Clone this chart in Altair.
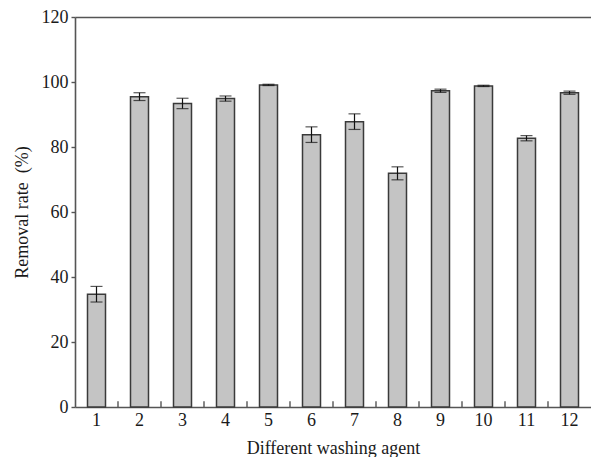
import altair as alt
import pandas as pd

agents = [str(i) for i in range(1, 13)]
rates = [34.7, 95.5, 93.4, 94.9, 99.1, 83.8, 87.8, 71.9, 97.3, 98.8, 82.7, 96.7]
errors = [2.4, 1.2, 1.6, 0.8, 0.2, 2.4, 2.4, 2.0, 0.5, 0.2, 0.8, 0.5]
y_ticks = [0, 20, 40, 60, 80, 100, 120]

df = pd.DataFrame({"agent": agents, "rate": rates, "err": errors})
df["lo"] = df["rate"] - df["err"]
df["hi"] = df["rate"] + df["err"]
tick_df = pd.DataFrame({"agent": agents[1:]})

FONT = "Liberation Serif"
AX = "#555555"
W, H = 516, 390
YTITLE = "Removal rate \u00a0(%)"

xscale = alt.Scale(domain=agents, paddingInner=0, paddingOuter=0)
yscale = alt.Scale(domain=[0, 120], nice=False)

y_ax = alt.Axis(values=y_ticks, grid=False, tickSize=4, tickColor=AX, tickWidth=1.4,
                domainColor=AX, domainWidth=1.6, labelFontSize=18, labelPadding=3,
                titleFontSize=18, titlePadding=10, labelColor="#1a1a1a",
                titleColor="#1a1a1a", titleFontWeight="normal")

x_bottom = alt.X(
    "agent:N", scale=xscale, sort=agents, title="Different washing agent",
    axis=alt.Axis(orient="bottom", labelAngle=0, ticks=False, labelFontSize=18,
                  labelPadding=4, titleFontSize=18, titlePadding=10,
                  domainColor=AX, domainWidth=1.6, labelColor="#1a1a1a",
                  titleColor="#1a1a1a", titleFontWeight="normal"))

bars = alt.Chart(df).mark_bar(size=18, fill="#c4c4c4", stroke="#3a3a3a", strokeWidth=1.5).encode(
    x=x_bottom, y=alt.Y("rate:Q", scale=yscale, title=YTITLE, axis=y_ax))

x_top = alt.X("agent:N", scale=xscale, sort=agents, title=None,
              axis=alt.Axis(orient="top", labels=False, ticks=False, title=None,
                            domainColor=AX, domainWidth=1.6))

x_plain = alt.X("agent:N", scale=xscale, sort=agents, axis=None)

err = alt.Chart(df).mark_rule(color="#111111", strokeWidth=1.2).encode(
    x=x_top, y=alt.Y("lo:Q", scale=yscale, title=YTITLE, axis=y_ax), y2="hi:Q")
cap_lo = alt.Chart(df).mark_tick(color="#111111", size=12, thickness=1.2).encode(
    x=x_plain, y=alt.Y("lo:Q", scale=yscale, title=YTITLE, axis=y_ax))
cap_hi = alt.Chart(df).mark_tick(color="#111111", size=12, thickness=1.2).encode(
    x=x_plain, y=alt.Y("hi:Q", scale=yscale, title=YTITLE, axis=y_ax))

xticks = alt.Chart(tick_df).mark_rule(color=AX, strokeWidth=1.4).encode(
    x=alt.X("agent:N", scale=xscale, sort=agents, bandPosition=0, axis=None),
    y=alt.Y(datum=0, scale=yscale, title=YTITLE, axis=y_ax), y2=alt.Y2(datum=1.8))

chart = alt.layer(bars, err, cap_lo, cap_hi, xticks).properties(
    width=W, height=H,
    padding={"left": 5, "top": 0, "right": 0, "bottom": 0},
).configure(font=FONT).configure_view(stroke=None)

chart.save("out.html", embed_options={"renderer": "svg", "actions": False})
